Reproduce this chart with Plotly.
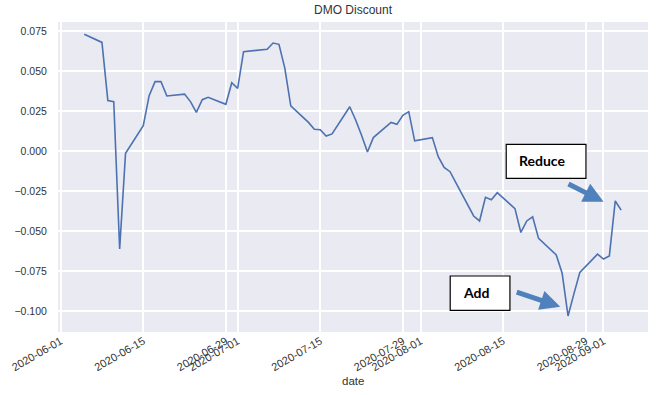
import plotly.graph_objects as go

dates = [
    "2020-06-05", "2020-06-08", "2020-06-09", "2020-06-10", "2020-06-11", "2020-06-12",
    "2020-06-15", "2020-06-16", "2020-06-17", "2020-06-18", "2020-06-19",
    "2020-06-22", "2020-06-23", "2020-06-24", "2020-06-25", "2020-06-26",
    "2020-06-29", "2020-06-30", "2020-07-01", "2020-07-02",
    "2020-07-06", "2020-07-07", "2020-07-08", "2020-07-09", "2020-07-10",
    "2020-07-13", "2020-07-14", "2020-07-15", "2020-07-16", "2020-07-17",
    "2020-07-20", "2020-07-21", "2020-07-22", "2020-07-23", "2020-07-24",
    "2020-07-27", "2020-07-28", "2020-07-29", "2020-07-30", "2020-07-31",
    "2020-08-03", "2020-08-04", "2020-08-05", "2020-08-06", "2020-08-07",
    "2020-08-10", "2020-08-11", "2020-08-12", "2020-08-13", "2020-08-14",
    "2020-08-17", "2020-08-18", "2020-08-19", "2020-08-20", "2020-08-21",
    "2020-08-24", "2020-08-25", "2020-08-26", "2020-08-27", "2020-08-28",
    "2020-08-31", "2020-09-01", "2020-09-02", "2020-09-03", "2020-09-04",
]
discount = [
    0.0731, 0.0680, 0.0316, 0.0310, -0.0611, -0.0013,
    0.0160, 0.0347, 0.0435, 0.0435, 0.0345,
    0.0357, 0.0310, 0.0243, 0.0322, 0.0337,
    0.0293, 0.0428, 0.0393, 0.0622,
    0.0637, 0.0676, 0.0668, 0.0518, 0.0284,
    0.0180, 0.0137, 0.0134, 0.0095, 0.0108,
    0.0278, 0.0195, 0.0100, -0.0005, 0.0085,
    0.0180, 0.0168, 0.0224, 0.0247, 0.0065,
    0.0085, -0.0034, -0.0101, -0.0128, -0.0198,
    -0.0405, -0.0436, -0.0288, -0.0303, -0.0259,
    -0.0359, -0.0508, -0.0436, -0.0410, -0.0545,
    -0.0649, -0.0763, -0.1030, -0.0890, -0.0757,
    -0.0643, -0.0674, -0.0655, -0.0311, -0.0368,
]

x_tickvals = ["2020-06-01", "2020-06-15", "2020-06-29", "2020-07-01", "2020-07-15",
              "2020-07-29", "2020-08-01", "2020-08-15", "2020-08-29", "2020-09-01"]
x_ticktext = x_tickvals
y_tickvals = [0.075, 0.050, 0.025, 0.0, -0.025, -0.050, -0.075, -0.100]
y_ticktext = ["0.075", "0.050", "0.025", "0.000", "\u22120.025", "\u22120.050", "\u22120.075", "\u22120.100"]

title_text = "DMO Discount"
x_label = "date"
note_labels = ["Reduce", "Add"]

W, H = 662, 395
L, R, T, B = 58, 14.3, 22, 63
pw, ph = W - L - R, H - T - B

def px(xp):
    return (xp - L) / pw

def py(yp):
    return (H - B - yp) / ph

fig = go.Figure()
fig.add_trace(go.Scatter(x=dates, y=discount, mode="lines",
                         line=dict(color="#4C72B0", width=1.6), showlegend=False))

font_fam = "Liberation Sans, Arial, sans-serif"
fig.update_layout(
    width=W, height=H,
    margin=dict(l=L, r=R, t=T, b=B, autoexpand=False),
    paper_bgcolor="white",
    plot_bgcolor="#EAEAF2",
    font=dict(family=font_fam, color="#333333", size=10.5),
    title=dict(text=title_text, x=0.5, xref="paper", xanchor="center",
               y=(H - 10) / H, yref="container", yanchor="middle",
               font=dict(size=12, color="#333333")),
    xaxis=dict(range=["2020-05-31 13:12", "2020-09-08 13:12"],
               tickvals=x_tickvals, ticktext=x_ticktext, tickangle=-30,
               automargin=False,
               showgrid=True, gridcolor="white", gridwidth=1.5,
               zeroline=False, showline=False,
               ticks="", ticklen=0,
               tickfont=dict(size=11, color="#333333")),
    yaxis=dict(range=[-0.1130, 0.08075],
               tickvals=y_tickvals, ticktext=y_ticktext,
               automargin=False,
               showgrid=True, gridcolor="white", gridwidth=1.5,
               zeroline=False, showline=False,
               ticks="outside", ticklen=8, tickcolor="rgba(0,0,0,0)",
               tickfont=dict(size=10.5, color="#333333")),
)

# x-axis label
fig.add_annotation(text=x_label, xref="paper", yref="paper", x=0.5, y=py(381),
                   xanchor="center", yanchor="middle", showarrow=False,
                   font=dict(size=11.5, color="#333333"))

# text boxes
boxes = [
    (506, 144.3, 585.7, 178.3, 517, 160, note_labels[0]),
    (450, 276, 509.7, 310.3, 461, 292, note_labels[1]),
]
for x0, y0, x1, y1, tx, ty, label in boxes:
    fig.add_shape(type="rect", xref="paper", yref="paper",
                  x0=px(x0), x1=px(x1), y0=py(y1), y1=py(y0),
                  line=dict(color="black", width=1.2), fillcolor="white", layer="above")
    fig.add_annotation(text="<b>" + label + "</b>", xref="paper", yref="paper",
                       x=px(tx), y=py(ty), xanchor="left", yanchor="middle",
                       showarrow=False, font=dict(family="Lato, sans-serif", size=14, color="black"))

# arrows
arrows = [
    (603.3, 201.7, 566.7, 183.3),
    (560, 306.7, 515, 291.7),
]
for hx, hy, tx, ty in arrows:
    fig.add_annotation(text="", xref="paper", yref="paper", x=px(hx), y=py(hy),
                       ax=tx - hx, ay=ty - hy, showarrow=True,
                       arrowhead=2, arrowsize=0.8, arrowwidth=5,
                       arrowcolor="#4F81BD")

fig.write_html("out.html", config={"displayModeBar": False},
               post_script="document.body.style.margin='0';document.body.style.overflow='hidden';")
